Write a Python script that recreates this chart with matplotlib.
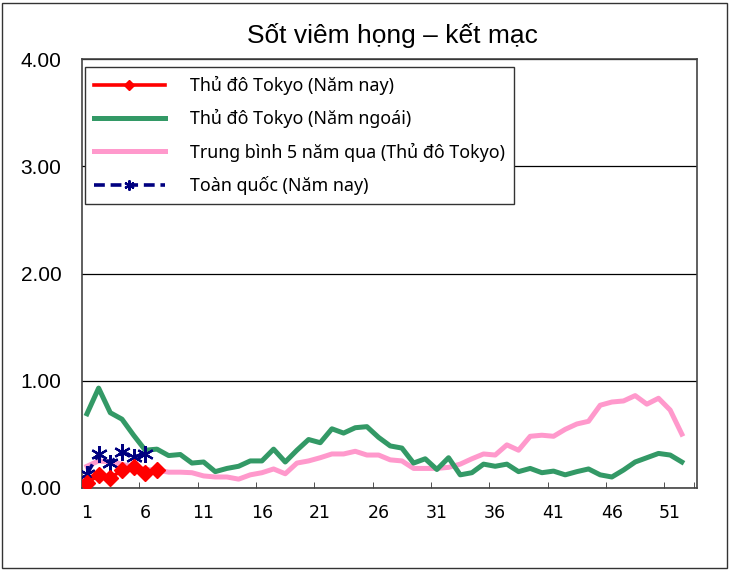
#!/usr/bin/env python
"""Sốt viêm họng – kết mạc: weekly reports per sentinel site, Tokyo vs national."""
import matplotlib

matplotlib.use("Agg")
import matplotlib.pyplot as plt
from matplotlib.patches import Rectangle

WEEKS = list(range(1, 53))
TOKYO_NOW = [0.04, 0.12, 0.09, 0.165, 0.195, 0.135, 0.165]
TOKYO_LAST = [0.69, 0.93, 0.70, 0.64, 0.49, 0.35, 0.36, 0.30, 0.31, 0.23, 0.24, 0.15, 0.18,
              0.20, 0.25, 0.25, 0.36, 0.24, 0.35, 0.45, 0.42, 0.55, 0.51, 0.56, 0.57, 0.47,
              0.39, 0.37, 0.23, 0.27, 0.17, 0.28, 0.12, 0.14, 0.22, 0.20, 0.22, 0.15, 0.18,
              0.14, 0.155, 0.12, 0.15, 0.175, 0.12, 0.10, 0.165, 0.24, 0.28, 0.32, 0.305, 0.24]
AVG5 = [0.20, 0.25, 0.24, 0.22, 0.19, 0.17, 0.165, 0.145, 0.145, 0.14, 0.11, 0.10, 0.10,
        0.08, 0.12, 0.14, 0.175, 0.13, 0.23, 0.25, 0.28, 0.315, 0.315, 0.34, 0.305, 0.305,
        0.26, 0.25, 0.18, 0.18, 0.18, 0.19, 0.22, 0.27, 0.315, 0.305, 0.40, 0.35, 0.48,
        0.49, 0.48, 0.545, 0.595, 0.62, 0.77, 0.80, 0.81, 0.86, 0.78, 0.835, 0.725, 0.50]
NATION_NOW = [0.13, 0.315, 0.23, 0.33, 0.29, 0.31]
LABELS = ["Thủ đô Tokyo (Năm nay)", "Thủ đô Tokyo (Năm ngoái)",
          "Trung bình 5 năm qua (Thủ đô Tokyo)", "Toàn quốc (Năm nay)"]
XLABELS = list(range(1, 53, 5))
YTICKS = [0, 1, 2, 3, 4]

W, H = 732, 571
fig = plt.figure(figsize=(W / 100, H / 100), dpi=100)
fig.patches.append(Rectangle((2 / W, 3 / H), 725 / W, 565 / H, transform=fig.transFigure,
                             fill=False, ec="#333333", lw=1.0))
ax = fig.add_axes([82.3 / W, 1 - 487.7 / H, (697 - 82.3) / W, (487.7 - 59.3) / H])

n = len(TOKYO_NOW)
ax.plot(WEEKS[:len(TOKYO_LAST)], TOKYO_LAST, color="#339966", lw=3.6, label=LABELS[1], zorder=2)
ax.plot(WEEKS[:len(AVG5)], AVG5, color="#FF99CC", lw=3.6, label=LABELS[2], zorder=1)
ax.plot(WEEKS[:n], TOKYO_NOW, color="#FF0000", lw=2.6, marker="D", ms=8.5, mec="#FF0000",
        label=LABELS[0], zorder=4)
ax.plot(WEEKS[:len(NATION_NOW)], NATION_NOW, color="#000080", lw=2.6, ls=(0, (3, 1.6)),
        marker=(6, 2, 0), ms=12, mew=1.6, mec="#000080", label=LABELS[3], zorder=3)

ax.set_xlim(0.6, 53.3)
ax.set_ylim(0, 4)
ax.set_yticks(YTICKS)
ax.set_yticklabels([f"{v:.2f}" for v in YTICKS], fontsize=15, family="Liberation Sans")
ax.set_xticks(XLABELS)
ax.set_xticklabels([str(v) for v in XLABELS], fontsize=12.5, family="DejaVu Sans")
ax.set_xticks([x + 4.5 for x in XLABELS[:-1]] + [53], minor=True)
ax.tick_params(axis="x", which="major", length=0, pad=12)
ax.tick_params(axis="x", which="minor", direction="in", length=4, color="#333333")
ax.tick_params(axis="y", length=0, pad=15)
ax.grid(axis="y", color="black", lw=0.9)
for s in ax.spines.values():
    s.set_color("#444444")
    s.set_linewidth(1.2)

fig.text(392 / W, 1 - 35 / H, "Sốt viêm họng – kết mạc", ha="center", va="center",
         fontsize=19, family="Liberation Sans")

h, l = ax.get_legend_handles_labels()
order = [l.index(s) for s in LABELS]
leg = ax.legend([h[i] for i in order], [l[i] for i in order], loc="upper left",
                bbox_to_anchor=(85 / W, 1 - 67 / H), bbox_transform=fig.transFigure,
                borderaxespad=0, fancybox=False, edgecolor="#333333", framealpha=1,
                prop={"family": "Noto Sans", "size": 12.8}, handlelength=4.0,
                handletextpad=1.4, labelspacing=0.8, borderpad=0.5, markerscale=0.6)
leg.get_frame().set_linewidth(1.0)

fig.savefig("out.png", dpi=100)
